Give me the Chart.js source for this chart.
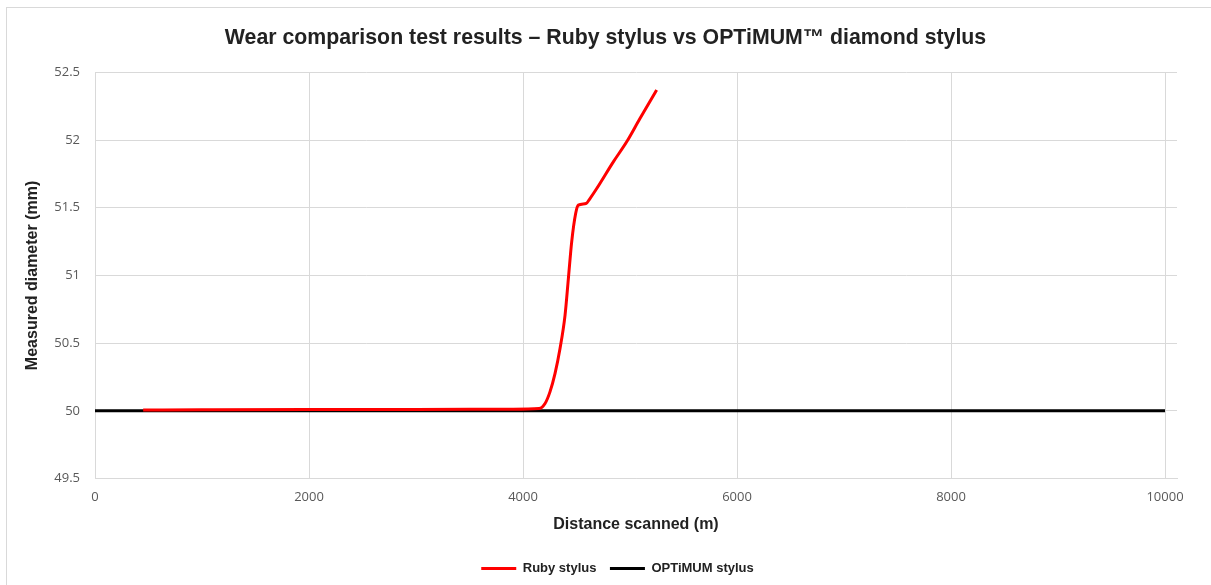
<!DOCTYPE html>
<html>
<head>
<meta charset="utf-8">
<script src="https://cdn.jsdelivr.net/npm/chart.js@4/dist/chart.umd.min.js"></script>
<style>
  html, body { margin: 0; padding: 0; background: #fff; overflow: hidden; }
  #wrap { position: relative; width: 1211px; height: 585px; }
  #frame { position: absolute; left: 6px; top: 7px; width: 1400px; height: 800px;
           border-left: 1px solid #d9d9d9; border-top: 1px solid #d9d9d9; pointer-events: none; }
</style>
</head>
<body>
<div id="wrap">
  <canvas id="c" width="1211" height="585"></canvas>
  <div id="frame"></div>
</div>
<script>
// ---- Data ----
const chartTitle = 'Wear comparison test results \u2013 Ruby stylus vs OPTiMUM\u2122 diamond stylus';
const xTitle = 'Distance scanned (m)';
const yTitle = 'Measured diameter (mm)';

const rubyLabel = 'Ruby stylus';
const rubyDistance = [450, 1000, 2000, 3000, 3900, 4150, 4206, 4252, 4299, 4346, 4393, 4424, 4455, 4492, 4517, 4589, 4626, 4689, 4844, 4969, 5093, 5249];
const rubyDiameter = [50.006, 50.008, 50.01, 50.01, 50.012, 50.017, 50.054, 50.14, 50.275, 50.46, 50.707, 50.977, 51.248, 51.457, 51.519, 51.531, 51.568, 51.642, 51.839, 51.987, 52.159, 52.369];

const optimumLabel = 'OPTiMUM stylus';
const optimumDistance = [0, 10000];
const optimumDiameter = [50, 50];

const xTicks = [0, 2000, 4000, 6000, 8000, 10000];
const yTicks = [49.5, 50, 50.5, 51, 51.5, 52, 52.5];

// ---- Build ----
const toPoints = (xs, ys) => xs.map((x, i) => ({ x: x, y: ys[i] }));
const tickFont = { family: "'Open Sans', sans-serif", size: 13 };
const boldFont = (s) => ({ family: "'Liberation Sans', Arial, sans-serif", size: s, weight: 'bold' });
const gridColor = '#d9d9d9';

const legendShift = {
  id: 'legendShift',
  afterLayout(chart) {
    const l = chart.legend;
    if (l) { l.left += 12; l.right += 12; }
  }
};

new Chart(document.getElementById('c'), {
  type: 'line',
  plugins: [legendShift],
  data: {
    datasets: [
      { label: rubyLabel, data: toPoints(rubyDistance, rubyDiameter), borderColor: '#ff0000', backgroundColor: '#ff0000',
        borderWidth: 3, pointRadius: 0, cubicInterpolationMode: 'monotone', fill: false },
      { label: optimumLabel, data: toPoints(optimumDistance, optimumDiameter), borderColor: '#000000', backgroundColor: '#000000',
        borderWidth: 3, pointRadius: 0, tension: 0, fill: false }
    ]
  },
  options: {
    responsive: false,
    animation: false,
    layout: { padding: { left: 0, right: 0, top: 0, bottom: 0 } },
    plugins: {
      tooltip: { enabled: false },
      title: { display: true, text: chartTitle, color: '#222222', font: boldFont(21.3), padding: { top: 25.4, bottom: 21.4 } },
      legend: {
        position: 'bottom',
        labels: {
          font: boldFont(13), color: '#222222', boxWidth: 35, boxHeight: 3, padding: 13.5,
          generateLabels: (chart) => chart.data.datasets.map((ds, i) => ({
            text: ds.label, fillStyle: ds.borderColor, strokeStyle: ds.borderColor, lineWidth: 0,
            hidden: false, datasetIndex: i, fontColor: '#222222'
          }))
        }
      }
    },
    scales: {
      x: {
        type: 'linear', min: 0, max: 10112,
        afterBuildTicks: (s) => { s.ticks = xTicks.map(v => ({ value: v })); },
        afterFit: (s) => { s.height = 70; },
        grid: { color: gridColor, drawTicks: false, lineWidth: 1 },
        border: { display: true, color: gridColor },
        ticks: { font: tickFont, color: '#595959', padding: 11, maxRotation: 0, callback: (v) => String(v) },
        title: { display: true, text: xTitle, font: boldFont(16), color: '#222222', padding: { top: 0, bottom: 14.4 } }
      },
      y: {
        type: 'linear', min: 49.5, max: 52.5,
        afterBuildTicks: (s) => { s.ticks = yTicks.map(v => ({ value: v })); },
        afterFit: (s) => { s.width = 95; },
        grid: { color: gridColor, drawTicks: false, lineWidth: 1 },
        border: { display: true, color: gridColor },
        ticks: { font: tickFont, color: '#595959', padding: 15, callback: (v) => String(v) },
        title: { display: true, text: yTitle, font: boldFont(16), color: '#222222', padding: { top: 23, bottom: 0 } }
      },
      yRight: {
        type: 'linear', position: 'right', min: 49.5, max: 52.5,
        afterFit: (s) => { s.width = 34; },
        grid: { display: false, drawTicks: false },
        border: { display: false },
        ticks: { display: false },
        title: { display: false }
      }
    }
  }
});
</script>
</body>
</html>
